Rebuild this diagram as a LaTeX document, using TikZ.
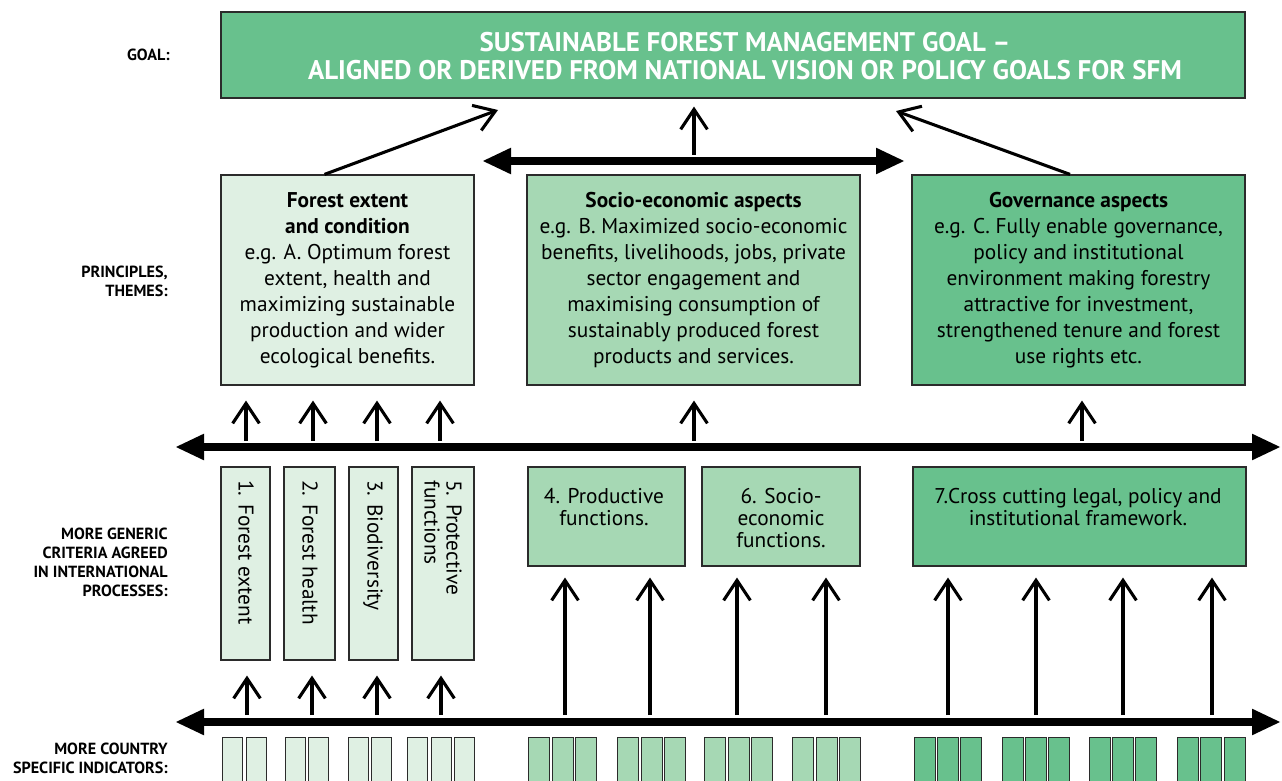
\documentclass[tikz,border=0pt]{standalone}
\usepackage{fontspec}
\setmainfont{PT Sans}
\usetikzlibrary{arrows.meta}
\newdimen\pxu \pxu=0.75pt
\definecolor{gdark}{HTML}{68C18D}
\definecolor{gmid}{HTML}{A6D8B4}
\definecolor{glight}{HTML}{DFF0E3}
\definecolor{boxline}{HTML}{2B2B2B}
\begin{document}
\begin{tikzpicture}[x=0.75pt,y=-0.75pt,
  boxbase/.style={draw=boxline,line width=0.9pt,inner sep=0pt,align=center},
  lbl/.style={font=\bfseries\fontsize{12.1}{14.25}\selectfont,align=right,anchor=east,inner sep=0pt},
  ptext/.style={font=\fontsize{16}{19.5}\selectfont},
  ctext/.style={font=\fontsize{16}{16.5}\selectfont,align=center,inner sep=0pt},
  indbox/.style={draw=boxline,line width=0.7pt},
  uparrow/.style={line width=2.3pt,-{Straight Barb[length=15pt,width=20pt]}},
  bigarrow/.style={line width=6pt,{Triangle[length=21pt,width=20pt,line width=0pt]}-{Triangle[length=21pt,width=20pt,line width=0pt]}}
]
\useasboundingbox (0,0) rectangle (1282,781);

% left labels
\node[lbl] (lgoal) at (170,55) {GOAL:};
\node[lbl] (lprin) at (168,281) {PRINCIPLES,\\THEMES:};
\node[lbl] (lcrit) at (168,562) {MORE GENERIC\\CRITERIA AGREED\\IN INTERNATIONAL\\PROCESSES:};
\node[lbl] (lind) at (168,758) {MORE COUNTRY\\SPECIFIC INDICATORS:};

% goal
\node[boxbase, fill=gdark, minimum width=1024\pxu, minimum height=86\pxu] (goal) at (733,55) {};
\node[align=center, inner sep=0pt, text=white, font=\bfseries\fontsize{20.2}{21}\selectfont] (goaltext) at (745,56)
  {SUSTAINABLE FOREST MANAGEMENT GOAL –\\ALIGNED OR DERIVED FROM NATIONAL VISION OR POLICY GOALS FOR SFM};

% principles
\node[boxbase, ptext, fill=glight, minimum width=253\pxu, minimum height=210\pxu] (p1) at (347.5,280)
  {\textbf{Forest extent}\\\textbf{and condition}\\e.g. A. Optimum forest\\extent, health and\\maximizing sustainable\\production and wider\\ecological benefits.};
\node[boxbase, ptext, fill=gmid, minimum width=333\pxu, minimum height=210\pxu] (p2) at (693.5,280)
  {\textbf{Socio-economic aspects}\\e.g. B. Maximized socio-economic\\benefits, livelihoods, jobs, private\\sector engagement and\\maximising consumption of\\sustainably produced forest\\products and services.};
\node[boxbase, ptext, fill=gdark, minimum width=333\pxu, minimum height=210\pxu] (p3) at (1078.5,280)
  {\textbf{Governance aspects}\\e.g. C. Fully enable governance,\\policy and institutional\\environment making forestry\\attractive for investment,\\strengthened tenure and forest\\use rights etc.};

% arrows to goal
\coordinate (g1) at (498,110);
\coordinate (g3) at (896,111);
\draw[uparrow] ([xshift=-23\pxu]p1.north) -- (g1);
\draw[uparrow] ([xshift=-8.5\pxu]p3.north) -- (g3);
\coordinate (dl) at (483,161);
\coordinate (dr) at (904,161);
\draw[bigarrow] (dl) -- (dr);
\coordinate (m2) at (694,155);
\draw[uparrow, shorten >=8\pxu] (m2) -- (goal.south -| m2);

% criteria line
\coordinate (c1l) at (176,447);
\coordinate (c1r) at (1280,447);
\draw[bigarrow] (c1l) -- (c1r);
\foreach \x/\t in {246/p1,313/p1,377/p1,440/p1,694/p2,1082/p3}{
  \coordinate (u\x) at (\x,441);
  \draw[uparrow, shorten >=15\pxu] (u\x) -- (\t.south -| u\x);
}

% criteria boxes
\node[boxbase, fill=glight, minimum width=49\pxu, minimum height=193\pxu] (c1) at (245.5,563.5) {};
\node[boxbase, fill=glight, minimum width=51\pxu, minimum height=193\pxu] (c2) at (309.5,563.5) {};
\node[boxbase, fill=glight, minimum width=49\pxu, minimum height=193\pxu] (c3) at (373.5,563.5) {};
\node[boxbase, fill=glight, minimum width=62\pxu, minimum height=193\pxu] (c4) at (443,563.5) {};
\node[ctext, rotate=-90, anchor=west] (t1) at (246,480) {1. Forest extent};
\node[ctext, rotate=-90, anchor=west] (t2) at (310,480) {2. Forest health};
\node[ctext, rotate=-90, anchor=west] (t3) at (373,480) {3. Biodiversity};
\node[ctext, rotate=-90, anchor=west, align=left] (t4) at (443,480) {5. Protective\\functions};

\node[boxbase, fill=gmid, minimum width=157\pxu, minimum height=99\pxu] (c5) at (606.5,516.5) {};
\node[boxbase, fill=gmid, minimum width=158\pxu, minimum height=99\pxu] (c6) at (781,516.5) {};
\node[boxbase, fill=gdark, minimum width=333\pxu, minimum height=99\pxu] (c7) at (1079.5,516.5) {};
\node[ctext, anchor=north] (t5) at (604,488) {4. Productive\\functions.};
\node[ctext, anchor=north] (t6) at (781,488) {6. Socio-\\economic\\functions.};
\node[ctext, anchor=north] (t7) at (1078,488) {7.Cross cutting legal, policy and\\institutional framework.};

% indicator line
\coordinate (i1l) at (176,722);
\coordinate (i1r) at (1280,722);
\draw[bigarrow] (i1l) -- (i1r);
\foreach \x/\t in {247/c1,312/c2,377/c3,441/c4}{
  \coordinate (v\x) at (\x,715);
  \draw[uparrow, shorten >=15\pxu] (v\x) -- (\t.south -| v\x);
}
\foreach \x/\t in {565/c5,650/c5,737/c6,826/c6,948/c7,1036/c7,1123/c7,1212/c7}{
  \coordinate (w\x) at (\x,715);
  \draw[uparrow, shorten >=11\pxu] (w\x) -- (\t.south -| w\x);
}

% indicators
\begin{scope}
\clip (0,0) rectangle (1282,781);
\foreach \x in {222,246,285,308,348,371,407,431,454}
  \draw[indbox, fill=glight] (\x,737) rectangle ++(20,60);
\foreach \x in {528,552,575,617,641,664,704,728,751,792,816,839}
  \draw[indbox, fill=gmid] (\x,737) rectangle ++(21,60);
\foreach \x in {914,937,960,1002,1025,1048,1089,1112,1135,1177,1200,1224}
  \draw[indbox, fill=gdark] (\x,737) rectangle ++(21,60);
\end{scope}
\end{tikzpicture}
\end{document}
